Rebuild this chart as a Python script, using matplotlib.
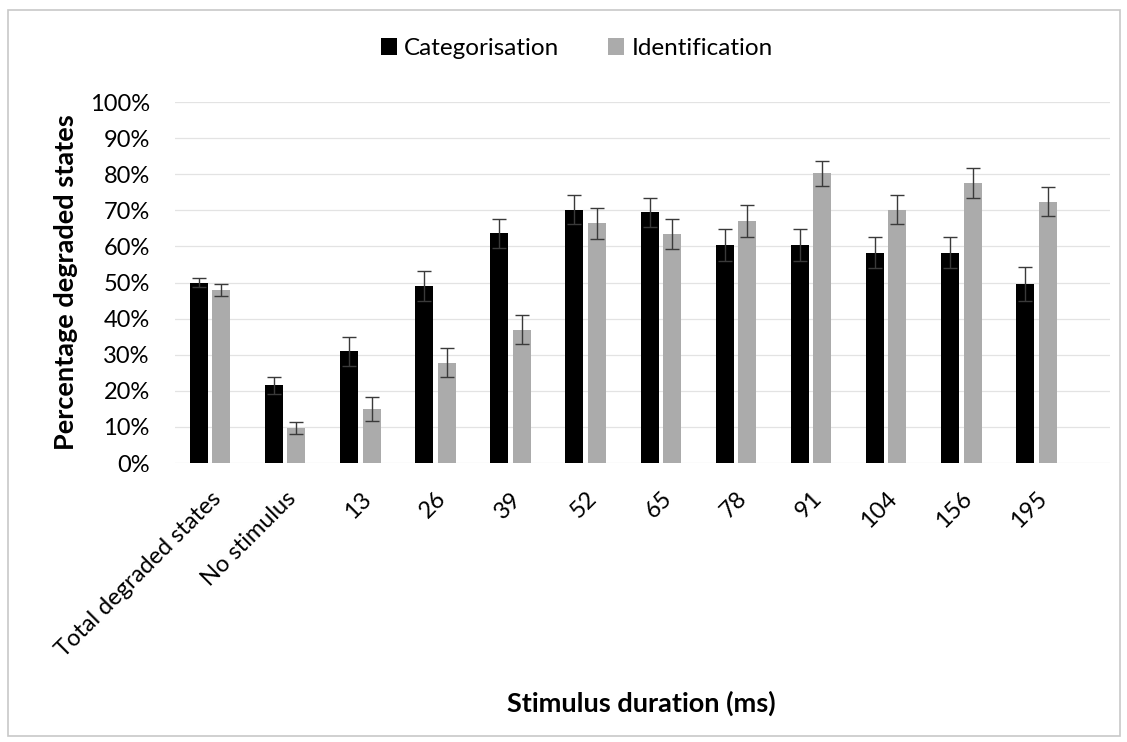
import numpy as np
import matplotlib.pyplot as plt
from matplotlib.patches import Rectangle

plt.rcParams['font.family'] = ['Lato', 'DejaVu Sans']

labels = ['Total degraded states', 'No stimulus', '13', '26', '39', '52',
          '65', '78', '91', '104', '156', '195']
categ = [50, 21.5, 31, 49, 63.6, 70.2, 69.5, 60.3, 60.3, 58.2, 58.2, 49.6]
categ_err = [1.3, 2.3, 4.0, 4.2, 4.0, 4.0, 4.0, 4.4, 4.4, 4.3, 4.3, 4.7]
ident = [48, 9.6, 14.9, 27.8, 36.9, 66.4, 63.4, 67, 80.2, 70.2, 77.5, 72.4]
ident_err = [1.6, 1.7, 3.4, 4.1, 4.0, 4.3, 4.2, 4.4, 3.5, 4.0, 4.2, 4.0]

fig = plt.figure(figsize=(11.27, 7.42), dpi=100)
ax = fig.add_axes([0.155, 0.376, 0.83, 0.4865])

x = np.arange(len(labels))
w = 0.24
ekw = dict(ecolor='#3a3a3a', elinewidth=1.0, capsize=5, capthick=1.0)
ax.bar(x - 0.15, categ, w, color='black', yerr=categ_err, error_kw=ekw,
       label='Categorisation', zorder=3)
ax.bar(x + 0.15, ident, w, color='#ababab', yerr=ident_err, error_kw=ekw,
       label='Identification', zorder=3)

ax.set_xlim(-0.47, 11.98)
ax.set_ylim(0, 100)
ax.set_yticks(np.arange(0, 101, 10))
ax.set_yticklabels([f'{v}%' for v in range(0, 101, 10)], fontsize=17)
ax.set_xticks(x)
ax.set_xticklabels(labels, rotation=45, ha='right', rotation_mode='anchor',
                   fontsize=17)
ax.tick_params(axis='y', length=0, pad=18)
ax.tick_params(axis='x', length=0, pad=18)
ax.yaxis.grid(True, color='#e3e3e3', linewidth=0.9, zorder=0)
for s in ax.spines.values():
    s.set_visible(False)

ax.set_ylabel('Percentage degraded states', fontsize=19.5, fontweight='bold',
              labelpad=8)
fig.text(0.569, 0.052, 'Stimulus duration (ms)', fontsize=19.5,
         fontweight='bold', ha='center', va='center')

ax.legend(loc='center', bbox_to_anchor=(0.43, 1.148), ncol=2, frameon=False,
          fontsize=17.5, handlelength=0.65, handleheight=0.65,
          handletextpad=0.3, columnspacing=2.0)

# thin frame round the whole chart area
fig.patches.append(Rectangle((0.007, 0.008), 0.987, 0.979,
                             transform=fig.transFigure, fill=False,
                             edgecolor='#c8c8c8', linewidth=1.2))

fig.savefig('out.png', dpi=100)
